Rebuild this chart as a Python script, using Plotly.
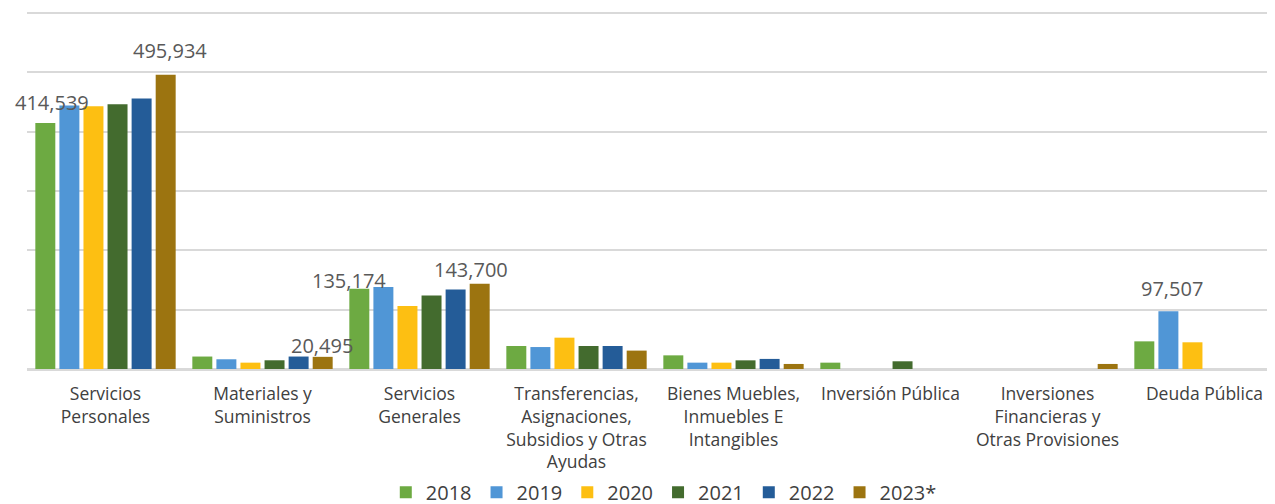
import plotly.graph_objects as go

categories = [
    "Servicios<br>Personales",
    "Materiales y<br>Suministros",
    "Servicios<br>Generales",
    "Transferencias,<br>Asignaciones,<br>Subsidios y Otras<br>Ayudas",
    "Bienes Muebles,<br>Inmuebles E<br>Intangibles",
    "Inversión Pública",
    "Inversiones<br>Financieras y<br>Otras Provisiones",
    "Deuda Pública",
]

years = ["2018", "2019", "2020", "2021", "2022", "2023*"]

v2018 = [414539, 21000, 135174, 38800, 23000, 10700, 0, 46600]
v2019 = [444000, 16400, 138000, 37000, 10700, 0, 0, 97507]
v2020 = [443000, 10700, 106000, 52800, 10700, 0, 0, 45000]
v2021 = [446000, 14700, 124000, 38800, 14600, 13000, 0, 0]
v2022 = [456000, 21000, 134000, 38800, 17000, 0, 0, 0]
v2023 = [495934, 20495, 143700, 31000, 8500, 0, 8500, 0]

# data labels shown in the chart: (category index, series index)
label_category = [0, 0, 1, 2, 2, 7]
label_series = [0, 5, 5, 0, 5, 1]

colors = ["#6DAA42", "#5096D6", "#FDBF12", "#436B2E", "#245C98", "#9C7410"]

series = [v2018, v2019, v2020, v2021, v2022, v2023]

# layout / style settings
BODY = 8                      # default html body margin of the page
W, H = 1275, 504
ML, MR, MT, MB = 27 - BODY, 0, 2, 143
BARGAP = 0.08
NSER = len(series)
cat_w = (W - ML - MR) / len(categories)
slot_w = cat_w * (1 - BARGAP) / NSER
# small nudges (px) for each label relative to its bar top, as in the source
label_nudge = [(7, 21), (4, 24), (-1, 11), (-10, 8), (-9, 14), (4, 23)]

fig = go.Figure()
for name, vals, col in zip(years, series, colors):
    fig.add_trace(go.Bar(
        name=name,
        x=categories,
        y=vals,
        marker=dict(color=col, line=dict(width=0)),
        hoverinfo="x+y+name",
    ))

for ci, si, (dx, dy) in zip(label_category, label_series, label_nudge):
    val = series[si][ci]
    fig.add_annotation(
        x=categories[ci], y=val,
        text=f"{val:,}",
        showarrow=False,
        xanchor="center", yanchor="middle",
        xshift=(si - (NSER - 1) / 2) * slot_w + dx,
        yshift=dy,
        font=dict(family="Open Sans", size=20, color="#595959"),
    )

fig.update_layout(
    width=W,
    height=H,
    margin=dict(l=ML, r=MR, t=MT, b=MB, autoexpand=False),
    paper_bgcolor="white",
    plot_bgcolor="white",
    barmode="group",
    bargap=BARGAP,
    bargroupgap=0.17,
    showlegend=True,
    legend=dict(
        orientation="h",
        x=0.507, xanchor="center",
        y=-0.343, yanchor="middle",
        font=dict(family="Open Sans", size=20, color="#404040"),
        itemwidth=30,
        traceorder="normal",
    ),
    font=dict(family="Open Sans", color="#404040"),
)

fig.update_xaxes(
    automargin=False,
    range=[-0.5, len(categories) - 0.5],
    showline=True,
    linecolor="#D9D9D9",
    linewidth=2,
    ticks="",
    ticklabelstandoff=8,
    tickfont=dict(family="Open Sans", size=17.5, color="#404040"),
    showgrid=False,
)
fig.update_yaxes(
    automargin=False,
    range=[0, 605000],
    dtick=100000,
    showticklabels=False,
    showgrid=True,
    gridcolor="#D9D9D9",
    gridwidth=2,
    zeroline=True,
    zerolinecolor="#D9D9D9",
    zerolinewidth=2,
)

fig.write_html("out.html")
